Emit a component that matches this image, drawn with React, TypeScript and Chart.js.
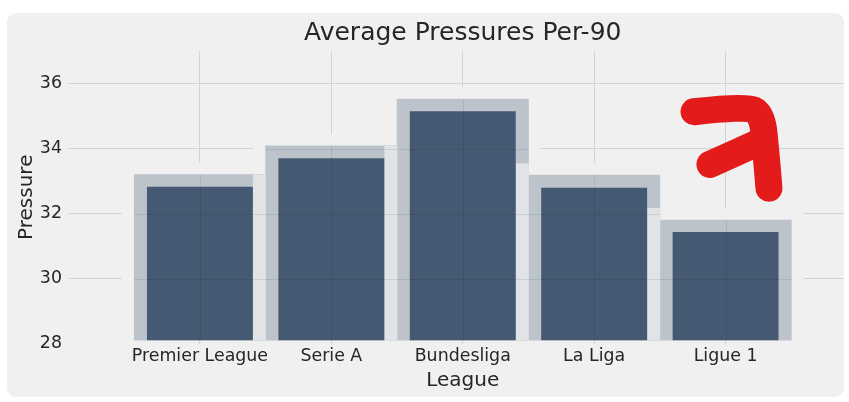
import React, { useEffect, useRef } from 'react';
import { Chart, registerables } from 'chart.js';

Chart.register(...registerables);

// ---- data ----
const leagues = ['Premier League', 'Serie A', 'Bundesliga', 'La Liga', 'Ligue 1'];
const pressures = [32.82, 33.7, 35.15, 32.79, 31.43];
const shadowTops = [33.2, 34.08, 35.52, 33.18, 31.8];
const yTicks = [28, 30, 32, 34, 36];
const barBase = 28.1;
const yMin = 28;
const yMax = 37;
const xMin = -1;
const xMax = 5;

// hand-drawn red arrow annotation, in data units (x = league index, y = pressure)
const arrowStrokeA = [
  [3.76, 35.13],
  [4.148, 35.31],
  [4.277, 35.07],
  [4.307, 33.91],
  [4.33, 32.78],
];
const arrowStrokeB = [
  [3.881, 33.51],
  [4.07, 33.85],
  [4.262, 34.21],
];

// ---- styling ----
const FONT = "'DejaVu Sans', sans-serif";
const TEXT = '#262626';
const GRID = '#d3d3d3';
const PANEL = '#f0f0f0';
const HALO_PAD = 0.37;
const STRIP_OFFSET = 0.453;

const haloTops = shadowTops.map((v) => v + HALO_PAD);
const stripTops = shadowTops.map((v, i) =>
  i < shadowTops.length - 1 ? Math.min(v, shadowTops[i + 1] + HALO_PAD) : null
);

const intTicks = (axis: any) => {
  axis.ticks = leagues.map((_, i) => ({ value: i }));
};

const barGridPlugin = {
  id: 'barGrid',
  afterDatasetsDraw(chart: any) {
    const { ctx, chartArea } = chart;
    const x = chart.scales.x;
    const y = chart.scales.y;
    const meta = chart.getDatasetMeta(2);
    ctx.save();
    ctx.beginPath();
    meta.data.forEach((bar: any) => {
      const p = bar.getProps(['x', 'y', 'base', 'width'], true);
      ctx.rect(p.x - p.width / 2, Math.min(p.y, p.base), p.width, Math.abs(p.base - p.y));
    });
    ctx.clip();
    ctx.strokeStyle = 'rgba(15,25,40,0.10)';
    ctx.lineWidth = 1;
    ctx.beginPath();
    yTicks.slice(1).forEach((v) => {
      const py = Math.round(y.getPixelForValue(v)) + 0.5;
      ctx.moveTo(chartArea.left, py);
      ctx.lineTo(chartArea.right, py);
    });
    leagues.forEach((_, i) => {
      const px = Math.round(x.getPixelForValue(i)) + 0.5;
      ctx.moveTo(px, chartArea.top);
      ctx.lineTo(px, chartArea.bottom);
    });
    ctx.stroke();
    ctx.restore();
  },
};

const arrowPlugin = {
  id: 'redArrow',
  afterDraw(chart: any) {
    const { ctx } = chart;
    const x = chart.scales.x;
    const y = chart.scales.y;
    const drawStroke = (pts: number[][]) => {
      const p = pts.map(([a, b]) => [x.getPixelForValue(a), y.getPixelForValue(b)]);
      ctx.beginPath();
      ctx.moveTo(p[0][0], p[0][1]);
      for (let i = 1; i < p.length - 1; i++) {
        const mx = (p[i][0] + p[i + 1][0]) / 2;
        const my = (p[i][1] + p[i + 1][1]) / 2;
        ctx.quadraticCurveTo(p[i][0], p[i][1], mx, my);
      }
      ctx.lineTo(p[p.length - 1][0], p[p.length - 1][1]);
      ctx.stroke();
    };
    ctx.save();
    ctx.strokeStyle = '#e41b1b';
    ctx.lineWidth = 27;
    ctx.lineCap = 'round';
    ctx.lineJoin = 'round';
    drawStroke(arrowStrokeA);
    drawStroke(arrowStrokeB);
    ctx.restore();
  },
};

export default function App() {
  const ref = useRef<HTMLCanvasElement | null>(null);

  useEffect(() => {
    if (!ref.current) return;
    const common = { grouped: false, categoryPercentage: 1, borderWidth: 0 };
    const chart = new Chart(ref.current, {
      type: 'bar',
      data: {
        datasets: [
          {
            label: 'Pressure',
            data: leagues.map((_, i) => ({ x: i, y: [barBase, pressures[i]] })),
            backgroundColor: '#465972',
            barPercentage: 0.806,
            order: 0,
            xAxisID: 'x',
            ...common,
          },
          {
            label: 'strip',
            data: leagues.map((_, i) => ({
              x: i + STRIP_OFFSET,
              y: stripTops[i] === null ? null : [barBase, stripTops[i]],
            })),
            backgroundColor: '#e1e3e6',
            barPercentage: 0.099,
            order: 1,
            xAxisID: 'x2',
            ...common,
          },
          {
            label: 'shadow',
            data: leagues.map((_, i) => ({ x: i, y: [barBase, shadowTops[i]] })),
            backgroundColor: '#bcc3cb',
            barPercentage: 1.0,
            order: 2,
            xAxisID: 'x',
            ...common,
          },
          {
            label: 'halo',
            data: leagues.map((_, i) => ({ x: i, y: [barBase, haloTops[i]] })),
            backgroundColor: PANEL,
            barPercentage: 1.19,
            order: 3,
            xAxisID: 'x',
            ...common,
          },
        ] as any,
      },
      options: {
        animation: false,
        responsive: false,
        layout: { padding: 0 },
        plugins: {
          legend: { display: false },
          tooltip: { enabled: false },
          title: {
            display: true,
            text: 'Average Pressures Per-90',
            color: TEXT,
            font: { family: FONT, size: 25, weight: 'normal' },
            padding: { top: 5, bottom: 3 },
            fullSize: false,
          },
        },
        scales: {
          x: {
            type: 'linear',
            min: xMin,
            max: xMax,
            offset: false,
            afterBuildTicks: intTicks,
            afterFit: (s: any) => {
              s.height = 53.5;
            },
            ticks: {
              callback: (v: any) => leagues[v],
              color: TEXT,
              font: { family: FONT, size: 17.4 },
              padding: 2.5,
              autoSkip: false,
              maxRotation: 0,
            },
            grid: { color: GRID, drawTicks: false, lineWidth: 1, offset: false },
            border: { display: false },
            title: {
              display: true,
              text: 'League',
              color: TEXT,
              font: { family: FONT, size: 20 },
              padding: { top: 0, bottom: 4 },
            },
          },
          x2: {
            type: 'linear',
            min: xMin,
            max: xMax,
            offset: false,
            display: false,
            afterBuildTicks: intTicks,
          },
          y: {
            type: 'linear',
            min: yMin,
            max: yMax,
            afterBuildTicks: (axis: any) => {
              axis.ticks = yTicks.map((v) => ({ value: v }));
            },
            afterFit: (s: any) => {
              s.width = 61.5;
            },
            ticks: {
              color: TEXT,
              font: { family: FONT, size: 17.4 },
              padding: 6.5,
            },
            grid: {
              color: (c: any) => (c.tick && c.tick.value === yMin ? 'rgba(0,0,0,0)' : GRID),
              drawTicks: false,
              lineWidth: 1,
            },
            border: { display: false },
            title: {
              display: true,
              text: 'Pressure',
              color: TEXT,
              font: { family: FONT, size: 20 },
              padding: { top: 8, bottom: 0 },
            },
          },
        },
      } as any,
      plugins: [barGridPlugin, arrowPlugin],
    });
    return () => chart.destroy();
  }, []);

  return (
    <div style={{ position: 'fixed', left: 0, top: 0, width: 849, height: 402, background: '#fff' }}>
      <div
        style={{
          position: 'absolute',
          left: 7,
          top: 13,
          width: 837,
          height: 384,
          borderRadius: 9,
          background: PANEL,
          overflow: 'hidden',
        }}
      >
        <canvas
          ref={ref}
          width={850}
          height={384}
          style={{ position: 'absolute', left: 0, top: 0, width: 850, height: 384 }}
        />
      </div>
    </div>
  );
}
